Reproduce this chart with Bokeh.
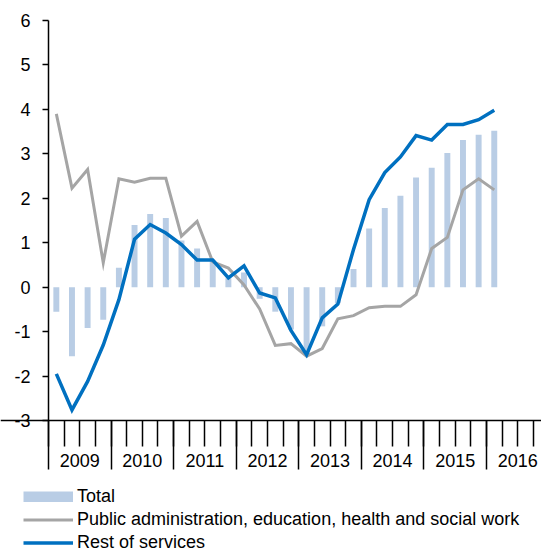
from bokeh.plotting import figure
from bokeh.models import LinearAxis, FixedTicker, Range1d, Legend, LegendItem, ColumnDataSource
from bokeh.embed import file_html
from bokeh.resources import INLINE

# Quarterly data, 2009Q1 .. 2016Q1
quarters = [f"{y}Q{q}" for y in range(2009, 2017) for q in range(1, 5)][:29]
years = ["2009", "2010", "2011", "2012", "2013", "2014", "2015", "2016"]
y_ticks = [-3, -2, -1, 0, 1, 2, 3, 4, 5, 6]

total = [-0.55, -1.55, -0.92, -0.73, 0.44, 1.40, 1.65, 1.56, 1.05, 0.87,
         0.60, 0.20, 0.33, -0.26, -0.55, -0.95, -1.50, -0.88, -0.36, 0.41,
         1.32, 1.78, 2.06, 2.47, 2.69, 3.02, 3.31, 3.43, 3.52]
public = [3.90, 2.23, 2.65, 0.55, 2.44, 2.36, 2.45, 2.45, 1.15, 1.48,
          0.57, 0.43, 0.05, -0.49, -1.31, -1.27, -1.55, -1.38, -0.71, -0.64,
          -0.46, -0.43, -0.43, -0.17, 0.87, 1.12, 2.19, 2.44, 2.19]
rest = [-1.95, -2.76, -2.12, -1.30, -0.28, 1.08, 1.41, 1.22, 0.96, 0.61,
        0.61, 0.21, 0.48, -0.13, -0.24, -0.97, -1.52, -0.69, -0.38, 0.85,
        1.97, 2.58, 2.93, 3.41, 3.31, 3.66, 3.66, 3.77, 3.98]

x = [i + 0.5 for i in range(len(quarters))]
src = ColumnDataSource(dict(x=x, total=total, public=public, rest=rest, quarter=quarters))

FONT = "Liberation Sans"
BAR = "#B9CDE5"
GREY = "#A5A5A5"
BLUE = "#0070C0"

p = figure(width=541, height=553, x_range=Range1d(-3.07, 31.52), y_range=Range1d(-5.99, 6.45),
           output_backend="svg", toolbar_location=None,
           x_axis_location=None, y_axis_location=None,
           min_border_left=0, min_border_right=0, min_border_top=0, min_border_bottom=0)
p.outline_line_color = None
p.grid.visible = False

bars = p.vbar(x="x", top="total", bottom=0, width=0.38, fill_color=BAR, line_color=None, source=src)
gline = p.line(x="x", y="public", line_color=GREY, line_width=3, line_join="miter", source=src)
bline = p.line(x="x", y="rest", line_color=BLUE, line_width=3.5, line_join="miter", source=src)
# legend key for the bars (a wide flat patch); draws nothing in the plot itself
bar_key = p.line(x=[float("nan")], y=[float("nan")], line_color=BAR, line_width=11)

# y axis
yax = LinearAxis(fixed_location=0, bounds=(-3, 6), ticker=FixedTicker(ticks=y_ticks),
                 major_tick_out=6, major_tick_in=0, minor_tick_out=0, minor_tick_in=0,
                 axis_line_width=1.5, major_tick_line_width=1.5,
                 major_label_overrides={t: str(t) for t in y_ticks},
                 major_label_text_font_size="18px", major_label_text_font=FONT,
                 major_label_text_color="black", major_label_standoff=12)
p.add_layout(yax, "left")

# x axis: tick marks (year separators long, quarter ticks short)
year_bounds = [4 * k for k in range(len(years) + 1)]
quarter_bounds = list(range(4 * len(years) + 1))
xax = LinearAxis(fixed_location=-3,
                 ticker=FixedTicker(ticks=year_bounds, minor_ticks=quarter_bounds),
                 major_tick_out=49, major_tick_in=0, minor_tick_out=26, minor_tick_in=0,
                 axis_line_width=1.5, major_tick_line_width=1.5, minor_tick_line_width=1.5,
                 major_label_overrides={b: "" for b in year_bounds},
                 major_label_text_font_size="18px")
p.add_layout(xax, "below")

# x axis: year labels centred in each year
year_centers = [4 * k + 2 for k in range(len(years))]
xlab = LinearAxis(fixed_location=-3, ticker=FixedTicker(ticks=year_centers),
                  major_tick_out=0, major_tick_in=0, minor_tick_out=0, minor_tick_in=0,
                  axis_line_color=None, major_tick_line_color=None,
                  major_label_overrides={c: yr for c, yr in zip(year_centers, years)},
                  major_label_text_font_size="18px", major_label_text_font=FONT,
                  major_label_text_color="black", major_label_standoff=33)
p.add_layout(xlab, "below")

legend = Legend(items=[LegendItem(label="Total", renderers=[bar_key]),
                       LegendItem(label="Public administration, education, health and social work", renderers=[gline]),
                       LegendItem(label="Rest of services", renderers=[bline])],
                location=(23, 0), orientation="vertical",
                glyph_width=50, glyph_height=11, label_height=21, spacing=2,
                padding=0, margin=0, label_standoff=4,
                border_line_color=None, background_fill_alpha=0,
                label_text_font_size="18px", label_text_font=FONT, label_text_color="black")
p.add_layout(legend)

open("out.html", "w").write(file_html(p, INLINE))
